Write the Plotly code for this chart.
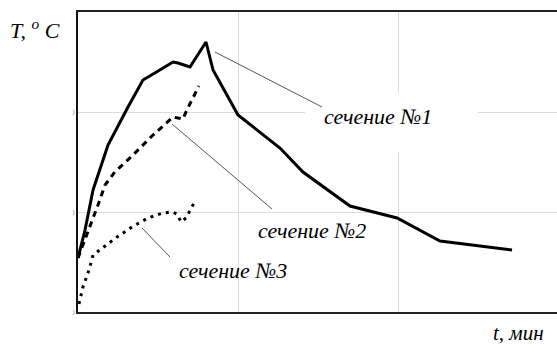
import plotly.graph_objects as go

# Temperature curves for three cross-sections (time in arbitrary grid units)
t1 = [0.0, 0.044, 0.094, 0.1875, 0.3125, 0.406, 0.48, 0.594, 0.625, 0.70, 0.80, 0.844,
      1.0, 1.2625, 1.406, 1.70, 1.994, 2.2625, 2.7125]
T1 = [0.54, 0.82, 1.22, 1.67, 2.05, 2.32, 2.39, 2.50, 2.49, 2.45, 2.70, 2.42,
      1.97, 1.64, 1.40, 1.06, 0.94, 0.71, 0.62]

t2 = [0.0, 0.05, 0.0875, 0.125, 0.169, 0.23, 0.3375, 0.4625, 0.594, 0.656, 0.68, 0.756]
T2 = [0.54, 0.75, 0.90, 1.07, 1.27, 1.40, 1.56, 1.76, 1.95, 1.93, 2.02, 2.26]

t3 = [0.006, 0.031, 0.069, 0.094, 0.144, 0.244, 0.3375, 0.4375, 0.531, 0.5875, 0.619,
      0.644, 0.675, 0.725]
T3 = [0.08, 0.25, 0.42, 0.57, 0.63, 0.75, 0.85, 0.94, 0.99, 1.00, 0.98, 0.90, 0.94, 1.09]

labels = ["сечение №1", "сечение №2", "сечение №3"]
label_pos = [(1.875, 1.96), (1.465, 0.82), (0.97, 0.42)]
leaders = [((0.856, 2.60), (1.525, 2.05)),
           ((0.5875, 1.88), (1.2125, 1.03)),
           ((0.40, 0.84), (0.575, 0.55))]

serif = "Liberation Serif, Times New Roman, serif"

fig = go.Figure()
fig.add_trace(go.Scatter(x=t1, y=T1, mode="lines",
                         line=dict(color="black", width=3)))
fig.add_trace(go.Scatter(x=t2, y=T2, mode="lines",
                         line=dict(color="black", width=3, dash="6px,5px")))
fig.add_trace(go.Scatter(x=t3, y=T3, mode="lines",
                         line=dict(color="black", width=3, dash="3px,5px")))

# white panel behind the first label (hides grid only)
fig.add_shape(type="rect", x0=1.419, x1=2.5, y0=1.6, y1=2.19,
              fillcolor="white", line=dict(width=0), layer="between")

for (a, b) in leaders:
    fig.add_shape(type="line", x0=a[0], y0=a[1], x1=b[0], y1=b[1],
                  line=dict(color="#555555", width=1))

for txt, (x, y) in zip(labels, label_pos):
    fig.add_annotation(x=x, y=y, text=txt, showarrow=False,
                       font=dict(family=serif, size=22, color="black",
                                 style="italic"))

fig.add_annotation(xref="paper", yref="paper", x=-0.0898, y=0.943,
                   xanchor="center", yanchor="middle",
                   text="T, <sup>o</sup> C", showarrow=False,
                   font=dict(family=serif, size=22, color="black",
                             style="italic"))
fig.add_annotation(xref="paper", yref="paper", x=0.9186, y=-0.118,
                   xanchor="center", yanchor="bottom",
                   text="t, мин", showarrow=False,
                   font=dict(family=serif, size=21, color="black",
                             style="italic"))

fig.update_layout(
    width=557, height=349,
    margin=dict(l=78, r=0, t=12, b=37),
    paper_bgcolor="white", plot_bgcolor="white",
    showlegend=False,
    xaxis=dict(range=[0, 2.99375], dtick=1, tick0=0, showgrid=True,
               gridcolor="#dcdcdc", gridwidth=1, showticklabels=False,
               zeroline=False, showline=True, linecolor="#222222",
               linewidth=2, mirror=True, ticks=""),
    yaxis=dict(range=[0, 3], tickvals=[0, 1, 2], ticktext=[")", ")", ")"],
               tickfont=dict(family=serif, size=7, color="#888888"),
               showgrid=True, gridcolor="#dcdcdc", gridwidth=1,
               zeroline=False, showline=True, linecolor="#111111",
               linewidth=2, mirror=False, ticks=""),
)

fig.write_html("out.html")
